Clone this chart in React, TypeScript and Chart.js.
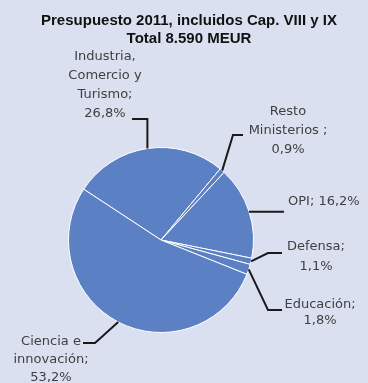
import { useEffect, useRef } from "react";
import { Chart, registerables } from "chart.js";

Chart.register(...registerables);

const titleLines = ["Presupuesto 2011, incluidos Cap. VIII y IX", "Total 8.590 MEUR"];
const categories = [
  "Industria, Comercio y Turismo",
  "Resto Ministerios",
  "OPI",
  "Defensa",
  "Educación",
  "Ciencia e innovación",
];
const shares = [26.8, 0.9, 16.2, 1.1, 1.8, 53.2];
const labelNameLines = [
  ["Industria,", "Comercio y", "Turismo;"],
  ["Resto", "Ministerios ;"],
  ["OPI;"],
  ["Defensa;"],
  ["Educación;"],
  ["Ciencia e", "innovación;"],
];

const BG = "#dbe0f1";
const PIE = "#5b80c4";
const TEXT = "#404040";
const LINE = "#1a1a1a";
const LABEL_FONT = "13px 'DejaVu Sans', sans-serif";
const TITLE_FONT = "bold 15px 'Liberation Sans', Arial, sans-serif";

const fmt = (v: number) => v.toFixed(1).replace(".", ",") + "%";

function buildLabel(i: number): string[] {
  const names = labelNameLines[i];
  if (i === 2) return [names[0] + " " + fmt(shares[i])];
  return [...names, fmt(shares[i])];
}

type Layout = {
  x: number;
  y: number;
  lh: number;
  align: CanvasTextAlign;
  path: (ax: number, ay: number) => [number, number][];
};
const layouts: Layout[] = [
  { x: 105, y: 57, lh: 19, align: "center", path: (ax, ay) => [[ax, ay], [ax, 119], [132, 119]] },
  { x: 288, y: 112, lh: 19, align: "center", path: (ax, ay) => [[ax, ay], [233, 135], [243, 135]] },
  { x: 288, y: 202, lh: 18, align: "left", path: (ax, ay) => [[ax, ay], [284, ay]] },
  { x: 316, y: 247, lh: 20, align: "center", path: (ax, ay) => [[ax, ay], [268, 253], [282, 253]] },
  { x: 320, y: 305, lh: 16, align: "center", path: (ax, ay) => [[ax, ay], [268, 310], [282, 310]] },
  { x: 51, y: 342, lh: 18, align: "center", path: (ax, ay) => [[ax, ay], [95, 343], [83, 343]] },
];

const labelsPlugin = {
  id: "pieLabels",
  afterDatasetsDraw(chart: any) {
    const ctx = chart.ctx as CanvasRenderingContext2D;
    const meta = chart.getDatasetMeta(0);
    ctx.save();
    ctx.fillStyle = "#111";
    ctx.font = TITLE_FONT;
    ctx.textAlign = "center";
    ctx.textBaseline = "middle";
    ctx.fillText(titleLines[0], 189, 21);
    ctx.fillText(titleLines[1], 189, 39);

    meta.data.forEach((arc: any, i: number) => {
      const p = arc.getProps(["x", "y", "startAngle", "endAngle", "outerRadius"], true);
      const mid = (p.startAngle + p.endAngle) / 2;
      const ax = p.x + Math.cos(mid) * p.outerRadius;
      const ay = p.y + Math.sin(mid) * p.outerRadius;
      const L = layouts[i];
      const pts = L.path(ax, ay);
      ctx.strokeStyle = LINE;
      ctx.lineWidth = 2;
      ctx.beginPath();
      pts.forEach(([px, py], k) => (k === 0 ? ctx.moveTo(px, py) : ctx.lineTo(px, py)));
      ctx.stroke();

      ctx.fillStyle = TEXT;
      ctx.font = LABEL_FONT;
      ctx.textAlign = L.align;
      ctx.textBaseline = "middle";
      buildLabel(i).forEach((t, k) => ctx.fillText(t, L.x, L.y + k * L.lh));
    });
    ctx.restore();
  },
};

export default function App() {
  const ref = useRef<HTMLCanvasElement | null>(null);
  useEffect(() => {
    if (!ref.current) return;
    const chart = new Chart(ref.current, {
      type: "pie",
      data: {
        labels: categories,
        datasets: [
          {
            data: shares,
            backgroundColor: PIE,
            borderColor: "#ffffff",
            borderWidth: 1,
          },
        ],
      },
      options: {
        responsive: false,
        animation: false,
        rotation: -56.7,
        layout: { padding: { left: 68, right: 114, top: 147, bottom: 50 } },
        plugins: { legend: { display: false }, tooltip: { enabled: false }, title: { display: false } },
      },
      plugins: [labelsPlugin],
    });
    return () => chart.destroy();
  }, []);
  return (
    <div style={{ position: "fixed", left: 0, top: 0, width: 368, height: 383, background: BG }}>
      <canvas ref={ref} width={368} height={383} />
    </div>
  );
}
